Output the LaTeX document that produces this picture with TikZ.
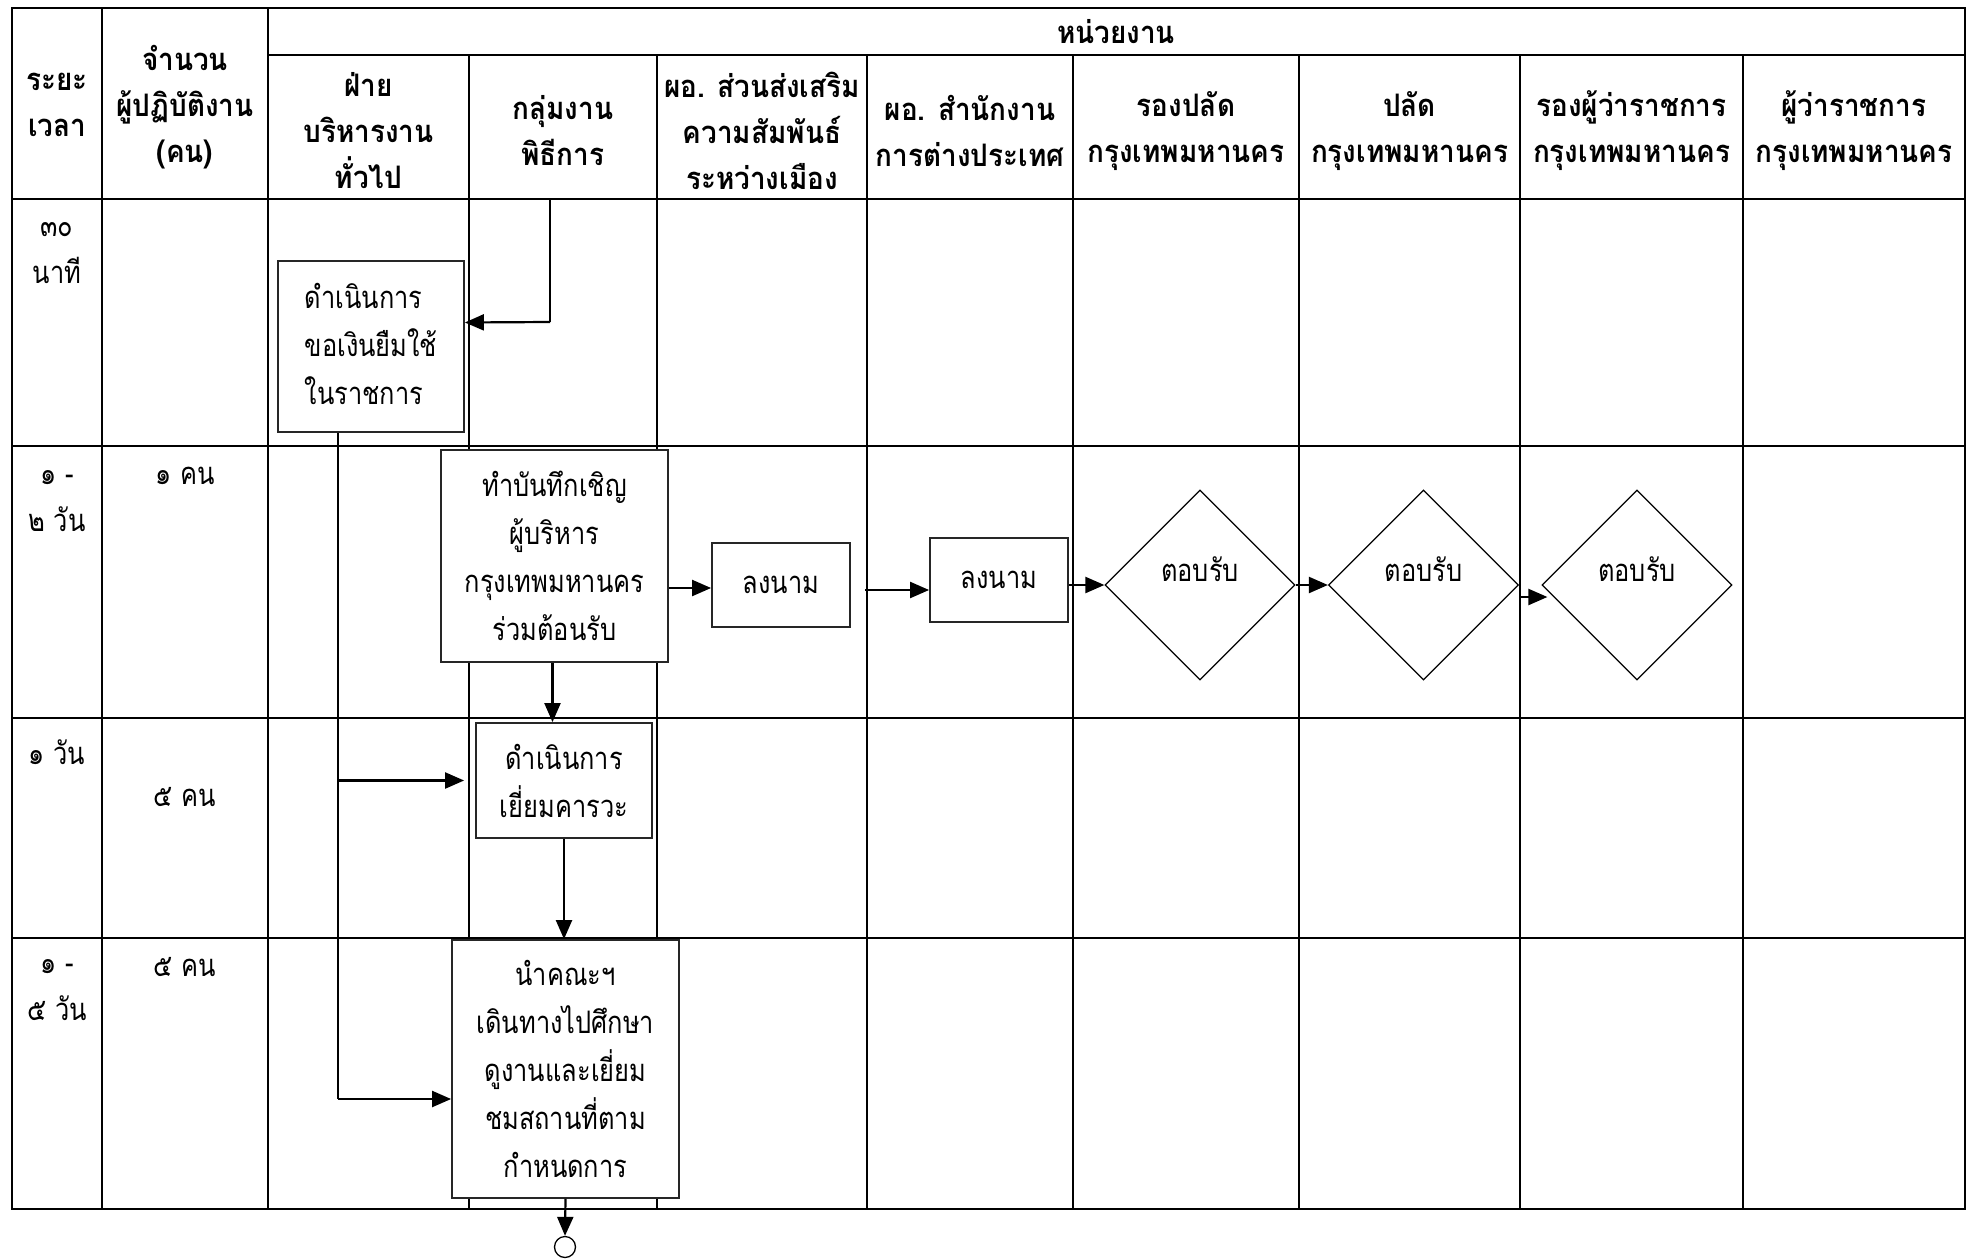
\documentclass[tikz,border=0pt]{standalone}
\usepackage{fontspec}
\newfontfamily\thai[Script=Thai,FakeStretch=0.82]{Loma}
\newfontfamily\thaihd[Script=Thai,FakeStretch=0.9]{Loma}
\usetikzlibrary{arrows.meta,shapes.geometric}

\begin{document}
\begin{tikzpicture}[x=1pt,y=-1pt,
  gridline/.style={line width=2.4pt},
  hd/.style={font=\thaihd\bfseries\fontsize{31}{46}\selectfont, align=center, inner sep=0pt},
  lbl/.style={font=\thai\fontsize{31}{47}\selectfont, align=center, inner sep=0pt},
  proc/.style={draw=black!85, line width=1.8pt, fill=white, inner sep=0pt,
    font=\thai\fontsize{31}{48}\selectfont, align=center},
  dec/.style={draw, diamond, line width=1.2pt, fill=white, inner sep=0pt,
    minimum width=190pt, minimum height=190pt},
  flow/.style={line width=2.2pt, -{Triangle[length=19pt,width=16pt]}},
  link/.style={line width=1.5pt},
  endpt/.style={draw, circle, line width=1.3pt, minimum size=21pt, inner sep=0pt}
]
\useasboundingbox (0,0) rectangle (1975,1260);
\fill[white] (0,0) rectangle (1975,1260);

% ---- table grid ----
\draw[gridline] (12,8) rectangle (1965,1209);
\draw[gridline] (268,55) -- (1965,55);
\foreach \yy in {199,446,718,938} \draw[gridline] (12,\yy) -- (1965,\yy);
\foreach \xx in {102,268} \draw[gridline] (\xx,8) -- (\xx,1209);
\foreach \xx in {469,657,867,1073,1299,1520,1743} \draw[gridline] (\xx,55) -- (\xx,1209);

% ---- header ----
\node[hd] (h0) at (57,105) {ระยะ\\เวลา};
\node[hd] (h1) at (185,107) {จำนวน\\ผู้ปฏิบัติงาน\\(คน)};
\node[hd] (hu) at (1116,32) {หน่วยงาน};
\node[hd] (h2) at (368.5,131) {ฝ่าย\\บริหารงาน\\ทั่วไป};
\node[hd] (h3) at (563,131) {กลุ่มงาน\\พิธีการ};
\node[hd] (h4) at (762,131) {ผอ. ส่วนส่งเสริม\\ความสัมพันธ์\\ระหว่างเมือง};
\node[hd] (h5) at (970,131) {ผอ. สำนักงาน\\การต่างประเทศ};
\node[hd] (h6) at (1186,131) {รองปลัด\\กรุงเทพมหานคร};
\node[hd] (h7) at (1409.5,131) {ปลัด\\กรุงเทพมหานคร};
\node[hd] (h8) at (1631.5,131) {รองผู้ว่าราชการ\\กรุงเทพมหานคร};
\node[hd] (h9) at (1854,131) {ผู้ว่าราชการ\\กรุงเทพมหานคร};

% ---- time and staff columns ----
\node[lbl] (t1) at (57,253) {๓๐\\นาที};
\node[lbl] (t2) at (57,501) {๑ -\\๒ วัน};
\node[lbl] (t3) at (57,752) {๑ วัน};
\node[lbl] (t4) at (57,990) {๑ -\\๕ วัน};
\node[lbl] (p2) at (185,476) {๑ คน};
\node[lbl] (p3) at (185,797) {๕ คน};
\node[lbl] (p4) at (185,967) {๕ คน};

% ---- process steps ----
\node[proc, minimum width=186pt, minimum height=171pt] (b1) at (371,346.5)
  {\begin{tabular}{@{}l@{}}ดำเนินการ\\ขอเงินยืมใช้\\ในราชการ\end{tabular}};
\node[proc, minimum width=227pt, minimum height=212pt] (b2) at (554.5,556)
  {ทำบันทึกเชิญ\\ผู้บริหาร\\กรุงเทพมหานคร\\ร่วมต้อนรับ};
\node[proc, minimum width=138pt, minimum height=84pt] (s1) at (781,585) {ลงนาม};
\node[proc, minimum width=138pt, minimum height=84pt] (s2) at (999,580) {ลงนาม};
\node[dec] (d1) at (1200,585) {};
\node[dec] (d2) at (1423.5,585) {};
\node[dec] (d3) at (1637,585) {};
\node[lbl] (d1t) at (1200,569) {ตอบรับ};
\node[lbl] (d2t) at (1423.5,569) {ตอบรับ};
\node[lbl] (d3t) at (1637,569) {ตอบรับ};
\node[proc, minimum width=176pt, minimum height=115pt] (b3) at (564,780.5)
  {ดำเนินการ\\เยี่ยมคารวะ};
\node[proc, minimum width=227pt, minimum height=258pt] (b4) at (565.5,1069)
  {นำคณะฯ\\เดินทางไปศึกษา\\ดูงานและเยี่ยม\\ชมสถานที่ตาม\\กำหนดการ};
\node[endpt] (fin) at (565,1247) {};
\coordinate (start) at (550,200);

% ---- connectors ----
\draw[link] (start) -- (start |- 0,322);
\draw[flow] (start |- 0,322) -- ([yshift=24pt]b1.east);
\draw[link] ([xshift=-33pt]b1.south) -- ([xshift=-33pt]b1.south |- 0,1099);
\draw[flow] ([xshift=-33pt]b1.south |- b3.west) -- ([xshift=-11pt]b3.west);
\draw[flow] ([xshift=-33pt]b1.south |- 0,1099) -- ([yshift=-30pt]b4.west);
\draw[flow] ([yshift=-32pt]b2.east) -- ([yshift=-32pt]b2.east -| s1.west);
\draw[flow] ([xshift=14pt,yshift=-5pt]s1.east) -- ([yshift=-10pt]s2.west);
\draw[flow] (s2.east |- d1.west) -- (d1.west);
\draw[flow] (d1.east) -- (d2.west);
\draw[flow] ([yshift=-12pt]d2.east) -- ([xshift=6pt,yshift=-12pt]d3.west);
\draw[flow] ([xshift=-2pt]b2.south) -- ([xshift=-2pt]b2.south |- b3.north);
\draw[flow] (b3.south) -- (b3.south |- b4.north);
\draw[flow] (b4.south) -- (fin.north);
\end{tikzpicture}
\end{document}
